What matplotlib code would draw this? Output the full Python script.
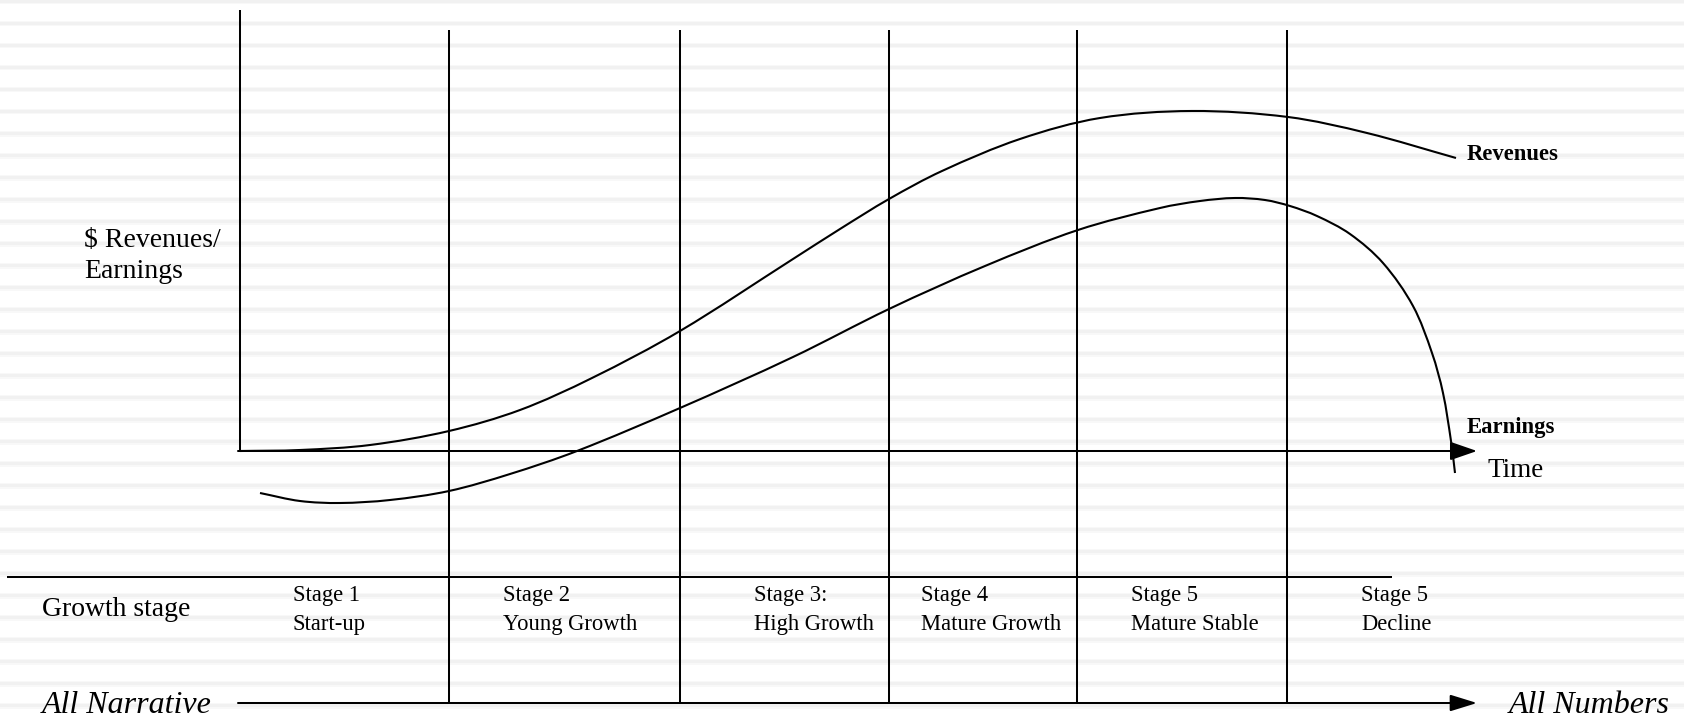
import numpy as np
import matplotlib
matplotlib.use("Agg")
import matplotlib.pyplot as plt
from matplotlib.path import Path
from matplotlib.patches import PathPatch
from matplotlib.transforms import Affine2D

# ---------------- data (time units from the y-axis, value units above the time axis)
revenue_t = [0, 60, 130, 209, 280, 352, 440, 553, 600, 649, 702, 780, 860, 952, 1048, 1127, 1216]
revenue_v = [0, 1, 6, 20, 41, 73, 120, 192, 222, 252, 280, 312, 333, 340, 334, 318, 293]

earnings_t = [20, 60, 100, 150, 209, 270, 337, 440, 553, 649, 745, 838, 920, 960, 995, 1025, 1050,
              1077, 1110, 1143, 1173, 1192, 1203, 1211, 1215]
earnings_v = [-42, -50, -52, -49, -40, -23, 0, 43, 94, 142, 185, 221, 243, 250, 253, 251, 245,
              235, 217, 188, 145, 98, 58, 10, -22]

stage_edges = [209, 440, 649, 837, 1047]
stage_label_t = [53, 263, 514, 681, 891, 1121]
stage_line1 = ["Stage 1", "Stage 2", "Stage 3:", "Stage 4", "Stage 5", "Stage 5"]
stage_line2 = ["Start-up", "Young Growth", "High Growth", "Mature Growth", "Mature Stable", "Decline"]

FONT = "Liberation Serif"
LW = 1.45

fig = plt.figure(figsize=(16.84, 7.2), dpi=100)
ax = fig.add_axes([0, 0, 1, 1])
ax.set_xlim(0, 1684)
ax.set_ylim(720, 0)
ax.axis("off")
fig.patch.set_facecolor("white")

# chart coordinates: time t -> x = 240 + t, value v -> y = 451 - v
chart = Affine2D().scale(1, -1).translate(240, 451) + ax.transData

# background stripes
for yc in np.arange(1.7, 725, 22.0):
    ax.axhspan(yc - 2.8, yc + 2.8, color="#f8f8f8", lw=0, zorder=0)
    ax.axhspan(yc - 1.6, yc + 1.6, color="#f1f1f1", lw=0, zorder=0)


def smooth_patch(ts, vs, **kw):
    """Chord-length Catmull-Rom spline through the points as cubic Bezier segments."""
    pts = np.column_stack([ts, vs]).astype(float)
    n = len(pts)
    d = np.linalg.norm(np.diff(pts, axis=0), axis=1)
    tang = np.zeros_like(pts)
    tang[0] = (pts[1] - pts[0]) / d[0]
    tang[-1] = (pts[-1] - pts[-2]) / d[-1]
    for i in range(1, n - 1):
        tang[i] = (pts[i + 1] - pts[i - 1]) / (d[i - 1] + d[i])
    verts = [pts[0]]
    codes = [Path.MOVETO]
    for i in range(n - 1):
        c1 = pts[i] + tang[i] * d[i] / 3.0
        c2 = pts[i + 1] - tang[i + 1] * d[i] / 3.0
        verts += [c1, c2, pts[i + 1]]
        codes += [Path.CURVE4] * 3
    return PathPatch(Path(verts, codes), fill=False, transform=chart, **kw)


# axes lines
ax.plot([0, 0], [0, 441], color="black", lw=LW, transform=chart, solid_capstyle="butt", zorder=3)
ax.annotate("", xy=(1237, 0), xytext=(-2, 0), xycoords=chart, textcoords=chart,
            arrowprops=dict(arrowstyle="-|>,head_length=0.55,head_width=0.19", mutation_scale=30,
                            color="black", lw=LW, shrinkA=0, shrinkB=0), zorder=3)
# stage divider lines
for e in stage_edges:
    ax.plot([e, e], [421, -252], color="black", lw=LW, transform=chart, solid_capstyle="butt", zorder=3)
# growth stage line
ax.plot([-233, 1152], [-126, -126], color="black", lw=LW, transform=chart, solid_capstyle="butt", zorder=3)
# narrative -> numbers arrow
ax.annotate("", xy=(1237, -252), xytext=(-2, -252), xycoords=chart, textcoords=chart,
            arrowprops=dict(arrowstyle="-|>,head_length=0.55,head_width=0.17", mutation_scale=30,
                            color="black", lw=LW, shrinkA=0, shrinkB=0), zorder=3)

# curves
ax.add_patch(smooth_patch(revenue_t, revenue_v, edgecolor="black", lw=1.5, zorder=4))
ax.add_patch(smooth_patch(earnings_t, earnings_v, edgecolor="black", lw=1.5, zorder=4))

# texts
ax.text(84, 247, "$ Revenues/", fontsize=20, family=FONT, va="baseline", ha="left", parse_math=False)
ax.text(84, 278, "Earnings", fontsize=20, family=FONT, va="baseline", ha="left")
ax.text(1467, 160, "Revenues", fontsize=16.3, family=FONT, weight="bold", va="baseline", ha="left")
ax.text(1467, 433, "Earnings", fontsize=16.3, family=FONT, weight="bold", va="baseline", ha="left")
ax.text(1488, 477, "Time", fontsize=19.5, family=FONT, va="baseline", ha="left")
ax.text(42, 616, "Growth stage", fontsize=20, family=FONT, va="baseline", ha="left")
for t, l1, l2 in zip(stage_label_t, stage_line1, stage_line2):
    x = 240 + t
    ax.text(x, 601, l1, fontsize=16.3, family=FONT, va="baseline", ha="left")
    ax.text(x, 630, l2, fontsize=16.3, family=FONT, va="baseline", ha="left")
ax.text(42, 713, "All Narrative", fontsize=23, family=FONT, style="italic", va="baseline", ha="left")
ax.text(1670, 713, "All Numbers", fontsize=23, family=FONT, style="italic", va="baseline", ha="right")

fig.savefig("out.png", dpi=100, facecolor="white")
